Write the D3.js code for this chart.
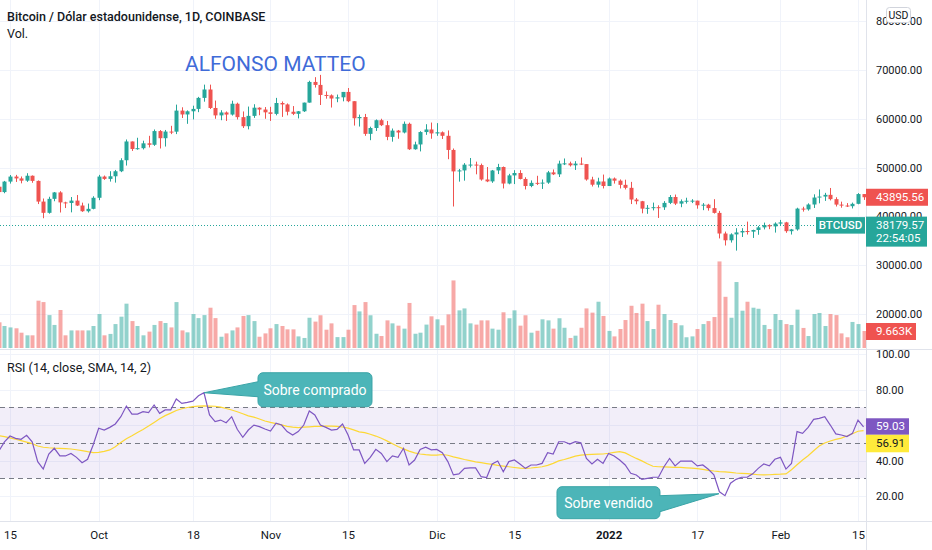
<!DOCTYPE html>
<html>
<head>
<meta charset="utf-8">
<script src="https://cdn.jsdelivr.net/npm/d3@7"></script>
<style>
  body { margin: 0; background: #fff; }
  svg { display: block; font-family: Roboto, "Noto Sans", sans-serif; }
</style>
</head>
<body>
<div id="chart"></div>
<script>
// --- data (BTCUSD daily, Coinbase) ---
var firstDay = "2021-09-13";

// [open, high, low, close] one row per day from firstDay
var ohlc = [
  [46060,46360,43570,44960],[44960,47250,44720,47110],[47110,48460,46700,48140],[48140,48490,47040,47760],
  [47760,48160,46750,47300],[47300,48830,47050,48310],[48310,48370,46860,47250],[47250,47340,42500,43010],
  [43010,43640,39590,40700],[40700,44000,40530,43570],[43570,44980,43080,44890],[44890,45140,40770,42840],
  [42840,42980,41680,42720],[42720,43940,40800,43210],[43210,44350,42110,42200],[42200,42790,40900,41030],
  [41030,42600,40760,41520],[41520,44100,41420,43790],
  // Oct
  [43790,48490,43300,48140],[48140,48350,47460,47660],[47660,49240,47110,48200],[48200,49500,46900,49230],
  [49230,51900,49050,51490],[51490,55750,50400,55340],[55340,55340,53400,53800],[53800,56100,53650,53960],
  [53960,55500,53700,54960],[54960,56500,54110,54660],[54660,57800,54430,57470],[57470,57680,53900,56010],
  [56010,57700,54300,57370],[57370,58550,56850,57350],[57350,62900,56850,61670],[61670,62350,60150,60880],
  [60880,61720,58960,61530],[61530,62680,59860,62020],[62020,64490,61350,64280],[64280,67000,63500,66000],
  [66000,66999,62000,62210],[62210,63730,60000,60690],[60690,61750,59700,61290],[61290,61500,59550,60860],
  [60860,63700,60650,63080],[63080,63300,59850,60330],[60330,61500,58100,58470],[58470,62500,57820,60590],
  [60590,62980,60180,62270],[62270,62350,60720,61890],[61890,62400,60000,61320],
  // Nov
  [61320,62450,59550,61000],[61000,64280,60700,63230],[63230,63550,60380,62940],[62940,63140,60700,61440],
  [61440,62600,60750,61010],[61010,61580,60070,61530],[61530,63310,61390,63310],[63310,67790,63300,67550],
  [67550,68530,66400,66940],[66940,69000,62820,64880],[64880,65600,64120,64800],[64800,65000,62300,64150],
  [64150,64960,63390,64400],[64400,65500,63570,65500],[65500,66300,63400,63600],[63600,63600,58600,60100],
  [60100,60850,58400,60360],[60360,60990,56500,56900],[56900,58370,55600,58100],[58100,59860,57500,59700],
  [59700,60000,58500,58680],[58680,59550,55600,56280],[56280,58000,55300,57570],[57570,57700,55900,57180],
  [57180,59430,57000,58960],[58960,59200,53600,53740],[53740,55300,53650,54730],[54730,57450,53300,57270],
  [57270,58880,56700,57800],[57800,59220,55900,56990],
  // Dec
  [56990,59100,56500,57220],[57220,57400,55850,56500],[56500,57600,51700,53600],[53600,53900,42000,49200],
  [49200,49700,47100,49400],[49400,50900,47300,50580],[50580,51950,50000,50600],[50600,51200,48600,50500],
  [50500,50800,47300,47540],[47540,50100,47000,47150],[47150,49500,46850,49390],[49390,50750,48650,50100],
  [50100,50200,45700,46710],[46710,48700,46550,48380],[48380,49450,46600,48870],[48870,49450,47550,47650],
  [47650,48000,45500,46200],[46200,47350,45950,46850],[46850,48300,46400,46700],[46700,47550,45600,46900],
  [46900,49300,46650,49000],[49000,49600,48450,48600],[48600,51400,48050,50800],[50800,51850,50500,50850],
  [50850,51200,50200,50450],[50450,51300,49500,50800],[50800,52050,50500,50700],[50700,50700,47300,47540],
  [47540,48100,46100,46470],[46470,47900,45900,47130],[47130,48550,45700,46200],
  // Jan
  [46200,47950,46200,47740],[47740,47950,46700,47300],[47300,47550,45700,46440],[46440,47500,45500,45830],
  [45830,47050,42500,43430],[43430,43750,42450,43080],[43080,43150,40600,41560],[41560,42300,40500,41730],
  [41730,42800,41200,41860],[41860,42250,39650,41830],[41830,43100,41300,42740],[42740,44350,42500,43950],
  [43950,44450,42300,42590],[42590,43450,41850,43080],[43080,43800,42600,43180],[43180,43500,42700,43200],
  [43200,43200,41550,42250],[42250,42700,41250,42370],[42370,42550,41150,41670],[41670,43500,40550,40690],
  [40690,41100,35450,36460],[36460,36850,34000,35070],[35070,36500,34600,36280],[36280,37550,32950,36680],
  [36680,37550,35750,36970],[36970,38900,36250,36840],[36840,37250,35550,37180],[37180,38000,36200,37720],
  [37720,38700,37300,38170],[38170,38350,37350,37920],[37920,38750,36650,38490],
  // Feb
  [38490,39250,38000,38740],[38740,38850,36600,36940],[36940,37400,36250,37300],[37300,41750,37050,41570],
  [41570,41950,40950,41410],[41410,42650,41150,42410],[42410,44500,41700,43840],[43840,45500,42650,44040],
  [44040,44800,43150,44390],[44390,45800,43250,43510],[43510,43900,42000,42390],[42390,43000,41750,42200],
  [42200,42700,41900,42060],[42060,42800,41600,42550],[42550,44750,42450,44550],[44550,44550,43350,43895.56]
];

// daily volume, thousands of BTC
var volumeK = [
  14.6,12.5,11.7,11.2,8.7,7.2,7.2,26.9,26.1,18.7,13.1,21.6,7.2,10,10,10,10,12.5,
  19.3,7.2,8,13.6,17.8,25.2,15.3,12.5,7.2,9.3,13.1,15.3,14.2,11.7,26.1,10,8.9,19.3,17,18.7,22.9,17,6.4,8.3,10,11.7,18.2,18.7,15.3,6.4,8.3,
  11.2,13.6,12.5,10.6,10.6,6.6,5.7,17.2,15,18.6,10.4,14,6.2,6.2,10.4,24.4,20.8,26.1,18.6,8.1,6.8,15.7,14,12.7,11,25.6,8.1,8.7,13.3,18,
  16.3,12.9,19.1,38.4,21.4,22.5,14,13.3,15.7,15.7,11,10.4,20.3,16.9,21.4,12.7,18.6,8.7,9.8,16.3,15.7,11,16.9,11.5,5.7,7,11.5,22.5,20.1,26.3,18.2,
  9.7,6.6,10.8,15.9,24,19.9,25.2,15.3,10.8,24.6,19.3,15.9,14.2,12.9,6.1,6.6,10.8,13.6,15.3,17.6,49.2,29.1,17.2,37.5,21.2,26.3,22.9,22.3,13.1,10.8,19.3,
  15.9,13.6,13.1,21.8,11.4,6.8,19.3,19.9,12.5,19.3,18.7,8.3,6.1,14.8,13.6,9.663
];

// RSI (14, close) one value per day
var rsi = [
  45.5,50.5,53.8,52.5,52,54.2,50.6,39.4,35.2,43.7,46.9,42.6,
  42.6,44,41.8,38.8,40.7,48.8,58.2,57.2,58.7,60.6,
  64.7,70.7,66.2,66.2,67.5,67,71.3,66.6,68.5,68.5,
  74.7,72.2,72.8,73.5,76.5,78.2,65.7,61.9,62.8,61.3,
  64.7,57.6,53.1,57.2,60,59.1,57.8,56.6,61,60,
  56.3,54.4,56.3,60,67.9,65.7,60,58.7,57.2,57.6,
  60.6,54.4,46,46,38.4,41.8,46.3,44,39.4,42.6,
  41.8,46.9,37.5,40.3,46.3,47.5,46,46.3,44.4,39.4,
  31.9,32.5,35.6,35.9,35.9,30.9,30.4,38.1,39.7,33.7,
  39.4,40.3,38.1,35.6,37.5,37.5,38.4,44.4,43.7,50.6,
  50.6,49.3,50.6,50,41.2,38.1,40.7,38.4,44,42.6,
  40.3,37.5,32.8,31.9,29.4,30,30.6,30.6,36.5,41.2,
  37,39.7,39.7,39.7,37,37.5,35.1,31.9,22.4,20.2,
  27.2,29.4,30.6,30.6,32.5,35.6,38.1,37,40.7,41.8,
  35.2,38.4,56.3,55.3,58.7,63.2,63.8,64.7,60,55,
  54.4,53.5,55.3,62.8,59.03
];

// SMA 14 of the RSI
var rsiMa = [
  54.0,53.5,52.8,52.0,51.2,50.4,49.5,48.2,47.5,47.2,47.0,46.9,
  46.7,46.5,46.1,45.6,45.0,44.5,44.6,45.2,46.0,47.8,
  50.2,52.3,54.0,55.8,57.5,59.4,61.5,63.6,65.3,66.7,
  68.2,69.2,69.9,70.4,70.7,70.8,70.7,70.6,70.1,69.3,
  68.5,67.5,66.4,65.2,64.5,63.4,62.3,61.5,60.8,60.1,
  59.3,58.8,58.6,58.8,59.0,59.2,59.3,59.4,59.4,59.2,
  58.9,58.3,57.3,56.2,55.7,54.8,53.8,52.6,51.1,49.5,
  47.9,46.6,45.3,44.3,43.7,43.3,43.1,43.1,43.4,43.0,
  42.1,41.4,40.6,40.0,39.3,38.8,38.3,37.8,37.3,36.9,
  36.5,36.1,35.7,35.6,35.8,36.1,36.5,37.3,38.4,39.8,
  40.6,41.5,42.5,43.1,43.3,43.5,43.6,43.7,44.1,44.6,
  45.0,44.3,42.7,41.2,39.8,38.2,36.8,36.5,36.4,36.3,
  36.2,36.1,35.9,35.7,35.5,35.0,34.5,34.1,33.8,33.6,
  33.3,33.0,32.8,32.6,32.3,32.0,31.9,32.0,32.2,32.3,
  32.5,34.8,37.6,40.3,42.7,45.5,48.2,49.9,51.0,51.9,
  52.6,53.8,55.1,56.5,56.91
];

var priceTicks = [20000, 30000, 40000, 50000, 60000, 70000, 80000];
var rsiTicks = [20, 40, 60, 80, 100];
var rsiLevels = [70, 50, 30];
var timeTicks = [
  ["2021-09-15", "15"], ["2021-10-01", "Oct"], ["2021-10-18", "18"], ["2021-11-01", "Nov"],
  ["2021-11-15", "15"], ["2021-12-01", "Dic"], ["2021-12-15", "15"], ["2022-01-01", "2022"],
  ["2022-01-17", "17"], ["2022-02-01", "Feb"], ["2022-02-15", "15"]
];
var lastPrice = 43895.56, refPrice = 38179.57, lastVolume = 9.663;
var overboughtDay = "2021-10-20", oversoldDay = "2022-01-22";

// --- layout ---
var width = 932, height = 550,
    plotRight = 866, priceBottom = 349, rsiBottom = 521;

var up = "#26a69a", down = "#ef5350", textColor = "#131722", gridColor = "#f0f3fa", lineColor = "#e0e3eb";

var parseDay = d3.utcParse("%Y-%m-%d");
var day0 = parseDay(firstDay);
var candles = ohlc.map(function (d, i) {
  return {date: d3.utcDay.offset(day0, i), o: d[0], h: d[1], l: d[2], c: d[3],
          v: volumeK[i], rsi: rsi[i], ma: rsiMa[i]};
});

var x = d3.scaleUtc()
    .domain([parseDay("2021-09-15"), parseDay("2022-02-15")])
    .range([10, 858]);
var y = d3.scaleLinear().domain([30000, 70000]).range([265, 70]);
var yVol = d3.scaleLinear().domain([0, lastVolume]).range([348, 331]);
var yRsi = d3.scaleLinear().domain([30, 70]).range([478.3, 407.3]);

var svg = d3.select("#chart").append("svg")
    .attr("width", width)
    .attr("height", height);

svg.append("rect").attr("width", width).attr("height", height).attr("fill", "#fff");

var defs = svg.append("defs");
defs.append("clipPath").attr("id", "clipPrice")
  .append("rect").attr("x", 0).attr("y", 0).attr("width", plotRight).attr("height", priceBottom);
defs.append("clipPath").attr("id", "clipRsi")
  .append("rect").attr("x", 0).attr("y", priceBottom + 1).attr("width", plotRight).attr("height", rsiBottom - priceBottom - 1);
defs.append("clipPath").attr("id", "clipRsiAxis")
  .append("rect").attr("x", plotRight).attr("y", priceBottom + 1).attr("width", width - plotRight).attr("height", rsiBottom - priceBottom - 1);

// grid lines
var grid = svg.append("g").attr("stroke", gridColor).attr("stroke-width", 1);
grid.selectAll(".vgrid").data(timeTicks).enter().append("line")
  .attr("x1", function (d) { return Math.round(x(parseDay(d[0]))) + 0.5; })
  .attr("x2", function (d) { return Math.round(x(parseDay(d[0]))) + 0.5; })
  .attr("y1", 0).attr("y2", rsiBottom);
grid.selectAll(".hgrid").data(priceTicks).enter().append("line")
  .attr("x1", 0).attr("x2", plotRight)
  .attr("y1", function (d) { return Math.round(y(d)) + 0.5; })
  .attr("y2", function (d) { return Math.round(y(d)) + 0.5; });
grid.append("g").attr("clip-path", "url(#clipRsi)")
  .selectAll("line").data(rsiTicks).enter().append("line")
  .attr("x1", 0).attr("x2", plotRight)
  .attr("y1", function (d) { return Math.round(yRsi(d)) + 0.5; })
  .attr("y2", function (d) { return Math.round(yRsi(d)) + 0.5; });

// --- price pane ---
var pricePane = svg.append("g").attr("clip-path", "url(#clipPrice)");

pricePane.selectAll(".vol").data(candles).enter().append("rect")
  .attr("x", function (d) { return Math.round(x(d.date)) - 1.5; })
  .attr("width", 4)
  .attr("y", function (d) { return yVol(d.v); })
  .attr("height", function (d) { return yVol(0) - yVol(d.v); })
  .attr("fill", function (d) { return d.c >= d.o ? up : down; })
  .attr("fill-opacity", 0.5);

// dotted reference line
pricePane.append("line")
  .attr("x1", 0).attr("x2", 816)
  .attr("y1", Math.round(y(refPrice)) + 0.5).attr("y2", Math.round(y(refPrice)) + 0.5)
  .attr("stroke", up).attr("stroke-dasharray", "1,2");

var candle = pricePane.selectAll(".candle").data(candles).enter().append("g")
  .attr("fill", function (d) { return d.c >= d.o ? up : down; })
  .attr("stroke", function (d) { return d.c >= d.o ? up : down; });

candle.append("line")
  .attr("x1", function (d) { return Math.round(x(d.date)) + 0.5; })
  .attr("x2", function (d) { return Math.round(x(d.date)) + 0.5; })
  .attr("y1", function (d) { return y(d.h); })
  .attr("y2", function (d) { return y(d.l); })
  .attr("stroke-width", 1);

candle.append("rect")
  .attr("stroke", "none")
  .attr("x", function (d) { return Math.round(x(d.date)) - 1.5; })
  .attr("width", 4)
  .attr("y", function (d) { return y(Math.max(d.o, d.c)); })
  .attr("height", function (d) { return Math.max(1, Math.abs(y(d.o) - y(d.c))); });

// --- RSI pane ---
var rsiPane = svg.append("g").attr("clip-path", "url(#clipRsi)");

rsiPane.append("rect")
  .attr("x", 0).attr("width", plotRight)
  .attr("y", yRsi(70)).attr("height", yRsi(30) - yRsi(70))
  .attr("fill", "#7e57c2").attr("fill-opacity", 0.1);

rsiPane.selectAll(".level").data(rsiLevels).enter().append("line")
  .attr("x1", 0).attr("x2", plotRight)
  .attr("y1", function (d) { return Math.round(yRsi(d)) + 0.5; })
  .attr("y2", function (d) { return Math.round(yRsi(d)) + 0.5; })
  .attr("stroke", "#787b86").attr("stroke-dasharray", "5,4");

var rsiLine = d3.line()
  .x(function (d) { return x(d.date); })
  .y(function (d) { return yRsi(d.rsi); });
var maLine = d3.line()
  .x(function (d) { return x(d.date); })
  .y(function (d) { return yRsi(d.ma); });

rsiPane.append("path").datum(candles)
  .attr("d", maLine).attr("fill", "none").attr("stroke", "#fdd835").attr("stroke-width", 1.2);
rsiPane.append("path").datum(candles)
  .attr("d", rsiLine).attr("fill", "none").attr("stroke", "#7e57c2").attr("stroke-width", 1.2);

// --- separators ---
svg.append("line").attr("x1", 0).attr("x2", width).attr("y1", priceBottom + 0.5).attr("y2", priceBottom + 0.5)
  .attr("stroke", lineColor);
svg.append("line").attr("x1", 0).attr("x2", width).attr("y1", rsiBottom + 0.5).attr("y2", rsiBottom + 0.5)
  .attr("stroke", lineColor);
svg.append("line").attr("x1", plotRight + 0.5).attr("x2", plotRight + 0.5).attr("y1", 0).attr("y2", height)
  .attr("stroke", lineColor);

// --- axes ---
function styleAxis(g) {
  g.select(".domain").remove();
  g.attr("font-family", "Roboto, sans-serif").attr("font-size", 11).attr("color", textColor);
}

svg.append("g")
  .attr("transform", "translate(" + plotRight + ",0)")
  .call(d3.axisRight(y).tickValues(priceTicks).tickSize(0).tickPadding(10).tickFormat(d3.format(".2f")))
  .call(styleAxis);

svg.append("g")
  .attr("clip-path", "url(#clipRsiAxis)")
  .append("g")
  .attr("transform", "translate(" + plotRight + ",0)")
  .call(d3.axisRight(yRsi).tickValues(rsiTicks).tickSize(0).tickPadding(10).tickFormat(d3.format(".2f")))
  .call(styleAxis);

var labelOf = {};
timeTicks.forEach(function (t) { labelOf[+parseDay(t[0])] = t[1]; });
var timeAxis = svg.append("g")
  .attr("transform", "translate(0," + rsiBottom + ")")
  .call(d3.axisBottom(x).tickValues(timeTicks.map(function (t) { return parseDay(t[0]); }))
    .tickSize(0).tickPadding(10).tickFormat(function (d) { return labelOf[+d]; }))
  .call(styleAxis);
timeAxis.selectAll("text").attr("font-size", 11.5)
  .attr("font-weight", function (d) { return labelOf[+d] === "2022" ? 700 : 400; });

// --- axis price tags ---
function tag(x0, yTop, w, h, fill, lines, txtColor, rx) {
  var g = svg.append("g");
  g.append("rect").attr("x", x0).attr("y", yTop).attr("width", w).attr("height", h)
    .attr("fill", fill).attr("rx", rx || 0);
  lines.forEach(function (s, i) {
    g.append("text").attr("x", x0 + 10).attr("y", yTop + 12 + i * 13.5)
      .attr("font-size", 11.5).attr("fill", txtColor || "#fff").text(s);
  });
  return g;
}

var yLast = y(lastPrice);
tag(plotRight, yLast - 8.5, 62, 17, down, [d3.format(".2f")(lastPrice)]);
var yRef = y(refPrice);
tag(plotRight, yRef - 8.5, 61, 30, up, [d3.format(".2f")(refPrice), "22:54:05"]);
svg.append("rect").attr("x", 816).attr("y", yRef - 8).attr("width", 49).attr("height", 16.5).attr("fill", up);
svg.append("text").attr("x", 840.5).attr("y", yRef + 4).attr("text-anchor", "middle")
  .attr("font-size", 11.5).attr("font-weight", 500).attr("fill", "#fff").text("BTCUSD");

tag(plotRight, yVol(lastVolume) - 8, 50, 17, down, [lastVolume + "K"]);

var last = candles[candles.length - 1];
var yR = yRsi(last.rsi);
tag(plotRight, yR - 8.5, 43, 16.5, "#7e57c2", [d3.format(".2f")(last.rsi)]);
tag(plotRight, yR + 8, 43, 17.5, "#ffeb3b", [d3.format(".2f")(last.ma)], textColor);

// currency box
svg.append("rect").attr("x", 886.5).attr("y", 7.5).attr("width", 24).attr("height", 15).attr("rx", 3)
  .attr("fill", "#fff").attr("stroke", "#d1d4dc");
svg.append("text").attr("x", 898.5).attr("y", 19).attr("text-anchor", "middle")
  .attr("font-size", 10.5).attr("fill", textColor).text("USD");

// --- titles ---
svg.append("text").attr("x", 7).attr("y", 21).attr("font-size", 12.5).attr("font-weight", 500)
  .attr("fill", textColor).text("Bitcoin / Dólar estadounidense, 1D, COINBASE");
svg.append("text").attr("x", 7).attr("y", 38).attr("font-size", 12.5)
  .attr("fill", textColor).text("Vol.");
svg.append("text").attr("x", 185).attr("y", 71).attr("font-size", 21)
  .attr("fill", "#3f6bd8").text("ALFONSO MATTEO");
svg.append("text").attr("x", 7).attr("y", 372).attr("font-size", 12.5)
  .attr("fill", textColor).text("RSI (14, close, SMA, 14, 2)");

// --- callouts ---
function callout(tipX, tipY, bx, by, bw, bh, tailSide, t1, t2, label) {
  var r = 5, p = d3.path();
  p.moveTo(bx + r, by);
  p.lineTo(bx + bw - r, by);
  p.arcTo(bx + bw, by, bx + bw, by + r, r);
  if (tailSide === "right") {
    p.lineTo(bx + bw, by + t1);
    p.lineTo(tipX, tipY);
    p.lineTo(bx + bw, by + t2);
  }
  p.lineTo(bx + bw, by + bh - r);
  p.arcTo(bx + bw, by + bh, bx + bw - r, by + bh, r);
  p.lineTo(bx + r, by + bh);
  p.arcTo(bx, by + bh, bx, by + bh - r, r);
  if (tailSide === "left") {
    p.lineTo(bx, by + t2);
    p.lineTo(tipX, tipY);
    p.lineTo(bx, by + t1);
  }
  p.lineTo(bx, by + r);
  p.arcTo(bx, by, bx + r, by, r);
  p.closePath();
  svg.append("path").attr("d", p.toString())
    .attr("fill", "#4cb5b8").attr("stroke", "#3aa4a7").attr("stroke-width", 1);
  svg.append("text").attr("x", bx + bw / 2).attr("y", by + bh / 2 + 5)
    .attr("text-anchor", "middle").attr("font-size", 14).attr("fill", "#fff").text(label);
}

var ob = candles.find(function (d) { return +d.date === +parseDay(overboughtDay); });
var obX = x(ob.date), obY = yRsi(ob.rsi);
callout(obX, obY, obX + 54, obY - 20, 114, 34, "left", 9, 24, "Sobre comprado");

var os = candles.find(function (d) { return +d.date === +parseDay(oversoldDay); });
var osX = x(os.date) - 6, osY = yRsi(os.rsi) - 2;
callout(osX, osY, osX - 162, osY - 7, 103, 32, "right", 9, 25, "Sobre vendido");
</script>
</body>
</html>
